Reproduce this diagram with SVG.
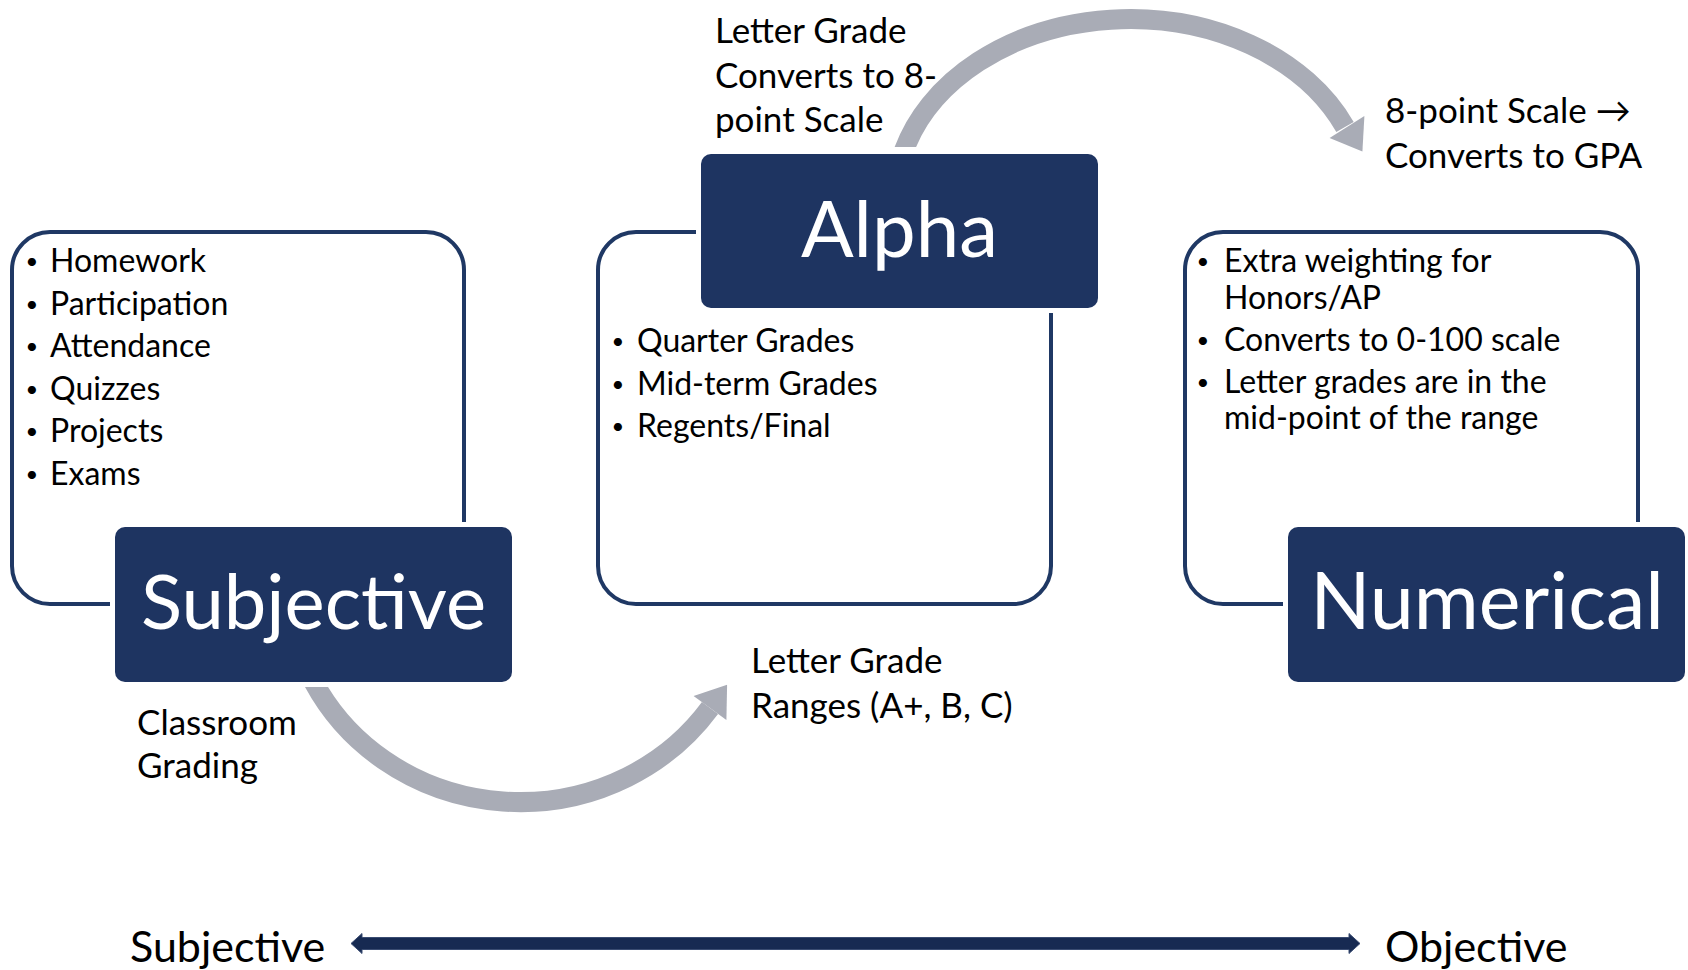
<svg xmlns="http://www.w3.org/2000/svg" width="1688" height="970" viewBox="0 0 1688 970">
  <style>
    .outline { fill: #ffffff; stroke: #1f3864; stroke-width: 4; }
    .halo { fill: #ffffff; }
    .head { fill: #1e3461; }
    .title { font-family: Lato, "Noto Sans", sans-serif; font-size: 78px; fill: #ffffff; text-anchor: middle; }
    .body { font-family: Lato, "Noto Sans", sans-serif; font-size: 32px; fill: #000000; }
    .bullet { font-family: Lato, "Noto Sans", sans-serif; font-size: 22px; fill: #000000; text-anchor: middle; }
    .label { font-family: Lato, "Noto Sans", sans-serif; font-size: 35px; fill: #000000; }
    .axis { font-family: Lato, "Noto Sans", sans-serif; font-size: 43px; fill: #000000; }
    .arc { fill: none; stroke: #a9acb6; stroke-width: 20; }
    .arrowhead { fill: #a9acb6; }
    .scale { fill: #172a52; stroke: #3a4c72; stroke-width: 1; }
  </style>
  <defs>
    <clipPath id="clipTop"><rect x="0" y="0" width="1688" height="147"/></clipPath>
    <clipPath id="clipBottom"><rect x="0" y="687" width="1688" height="283"/></clipPath>
  </defs>
  <rect x="0" y="0" width="1688" height="970" fill="#ffffff"/>

  <g id="connectors">
    <path class="arc" clip-path="url(#clipTop)" d="M 902.4 155 A 235 181 0 0 1 1345 127"/>
    <polygon class="arrowhead" points="1329.6,137.9 1364.4,116.1 1362.4,151.6"/>
    <path class="arc" clip-path="url(#clipBottom)" d="M 312.6 680 A 232 221 0 0 0 710 708"/>
    <polygon class="arrowhead" points="693.6,695.9 727.1,684.8 726.4,720.1"/>
    <polygon class="scale" points="351,943.5 362,933.5 362,937.5 1349,937.5 1349,933.5 1360,943.5 1349,953.5 1349,949.5 362,949.5 362,953.5"/>
  </g>

  <g id="node-subjective">
    <rect class="outline" x="12" y="232" width="452" height="372" rx="38"/>
    <rect class="halo" x="110" y="522" width="407" height="165" rx="14"/>
    <rect class="head" x="115" y="527" width="397" height="155" rx="10"/>
    <text class="title" x="313.5" y="629" style="font-size:76px">Subjective</text>
    <text class="bullet" x="32" y="269">•</text><text class="body" x="50" y="272">Homework</text>
    <text class="bullet" x="32" y="312">•</text><text class="body" x="50" y="315">Participation</text>
    <text class="bullet" x="32" y="354">•</text><text class="body" x="50" y="357">Attendance</text>
    <text class="bullet" x="32" y="397">•</text><text class="body" x="50" y="400">Quizzes</text>
    <text class="bullet" x="32" y="439">•</text><text class="body" x="50" y="442">Projects</text>
    <text class="bullet" x="32" y="482">•</text><text class="body" x="50" y="485">Exams</text>
  </g>

  <g id="node-alpha">
    <rect class="outline" x="598" y="232" width="453" height="372" rx="38"/>
    <rect class="halo" x="696" y="149" width="407" height="164" rx="14"/>
    <rect class="head" x="701" y="154" width="397" height="154" rx="10"/>
    <text class="title" x="899.5" y="257">Alpha</text>
    <text class="bullet" x="618" y="349">•</text><text class="body" x="637" y="352">Quarter Grades</text>
    <text class="bullet" x="618" y="392">•</text><text class="body" x="637" y="395">Mid-term Grades</text>
    <text class="bullet" x="618" y="434">•</text><text class="body" x="637" y="437">Regents/Final</text>
  </g>

  <g id="node-numerical">
    <rect class="outline" x="1185" y="232" width="453" height="372" rx="38"/>
    <rect class="halo" x="1283" y="522" width="407" height="165" rx="14"/>
    <rect class="head" x="1288" y="527" width="397" height="155" rx="10"/>
    <text class="title" x="1487" y="629" style="font-size:79px">Numerical</text>
    <text class="bullet" x="1203" y="269">•</text><text class="body" x="1224" y="272">Extra weighting for</text>
    <text class="body" x="1224" y="309">Honors/AP</text>
    <text class="bullet" x="1203" y="348">•</text><text class="body" x="1224" y="351">Converts to 0-100 scale</text>
    <text class="bullet" x="1203" y="390">•</text><text class="body" x="1224" y="393">Letter grades are in the</text>
    <text class="body" x="1224" y="429">mid-point of the range</text>
  </g>

  <g id="labels">
    <text class="label" x="715" y="43">Letter Grade</text>
    <text class="label" x="715" y="88">Converts to 8-</text>
    <text class="label" x="715" y="132">point Scale</text>
    <text class="label" x="1385" y="123">8-point Scale →</text>
    <text class="label" x="1385" y="168">Converts to GPA</text>
    <text class="label" x="137" y="735">Classroom</text>
    <text class="label" x="137" y="778">Grading</text>
    <text class="label" x="751" y="673">Letter Grade</text>
    <text class="label" x="751" y="718">Ranges (A+, B, C)</text>
    <text class="axis" x="130" y="962">Subjective</text>
    <text class="axis" x="1385" y="962">Objective</text>
  </g>
</svg>
